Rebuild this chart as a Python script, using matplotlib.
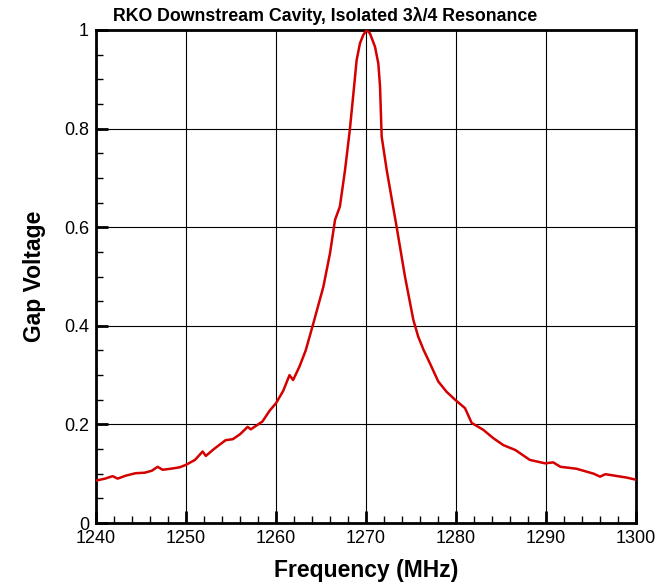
import matplotlib
matplotlib.use("Agg")
import matplotlib.pyplot as plt
from matplotlib.ticker import MultipleLocator

plt.rcParams['font.family'] = ['Liberation Sans', 'DejaVu Sans']

title = "RKO Downstream Cavity, Isolated 3\u03bb/4 Resonance"
xlabel = "Frequency (MHz)"
ylabel = "Gap Voltage"

freq = [1240.0, 1241.0, 1241.85, 1242.4, 1243.3, 1244.4, 1245.4, 1246.2, 1246.85,
        1247.4, 1248.3, 1249.3, 1250.0, 1251.0, 1251.85, 1252.2, 1253.1, 1254.4,
        1255.2, 1256.0, 1256.85, 1257.2, 1258.5, 1259.3, 1260.0, 1260.8, 1261.5,
        1261.9, 1262.6, 1263.3, 1264.15, 1265.26, 1266.0, 1266.56, 1267.1, 1267.67,
        1268.2, 1268.6, 1268.96, 1269.33, 1269.7, 1270.07, 1270.44, 1271.0, 1271.37,
        1271.56, 1271.74, 1272.3, 1273.4, 1274.33, 1275.26, 1275.8, 1276.4, 1277.1,
        1278.03, 1278.96, 1279.9, 1281.0, 1281.74, 1283.03, 1284.15, 1285.26, 1286.2,
        1286.6, 1288.2, 1289.9, 1290.8, 1291.6, 1293.4, 1295.3, 1296.0, 1296.6,
        1299.0, 1299.7, 1300.0]
volt = [0.086, 0.090, 0.095, 0.090, 0.096, 0.101, 0.102, 0.106, 0.114,
        0.108, 0.110, 0.113, 0.118, 0.128, 0.145, 0.136, 0.150, 0.168,
        0.170, 0.180, 0.195, 0.190, 0.206, 0.228, 0.243, 0.268, 0.300,
        0.290, 0.317, 0.350, 0.405, 0.479, 0.547, 0.615, 0.642, 0.716,
        0.797, 0.871, 0.939, 0.973, 0.990, 1.000, 0.993, 0.966, 0.932,
        0.885, 0.784, 0.716, 0.601, 0.500, 0.412, 0.378, 0.351, 0.324,
        0.287, 0.266, 0.250, 0.233, 0.203, 0.189, 0.172, 0.158, 0.151,
        0.148, 0.128, 0.121, 0.123, 0.114, 0.110, 0.100, 0.094, 0.099,
        0.092, 0.089, 0.088]

fig = plt.figure(figsize=(6.69, 5.85), dpi=100)
ax = fig.add_axes([96/669, 1-523/585, 540/669, 493/585])

ax.plot(freq, volt, color='#d40000', linewidth=1.8, zorder=3)

ax.set_xlim(1240, 1300)
ax.set_ylim(0, 1)
ax.xaxis.set_major_locator(MultipleLocator(10))
ax.xaxis.set_minor_locator(MultipleLocator(2))
ax.yaxis.set_minor_locator(MultipleLocator(0.05))
ax.set_yticks([0, 0.2, 0.4, 0.6, 0.8, 1.0])
ax.set_yticklabels(['0', '0.2', '0.4', '0.6', '0.8', '1'])

ax.grid(True, which='major', color='black', linewidth=0.8)
ax.tick_params(which='major', direction='in', length=8.5, width=2, labelsize=13, pad=5)
ax.tick_params(which='minor', direction='in', length=5, width=1)
for s in ax.spines.values():
    s.set_linewidth(2)

ax.set_xlabel(xlabel, fontsize=16.5, fontweight='bold', labelpad=9)
ax.set_ylabel(ylabel, fontsize=16.5, fontweight='bold', labelpad=13)
fig.text(113/669, 1-21/585, title, fontsize=12.8, fontweight='bold', ha='left', va='baseline')

fig.savefig('out.png', dpi=100)
